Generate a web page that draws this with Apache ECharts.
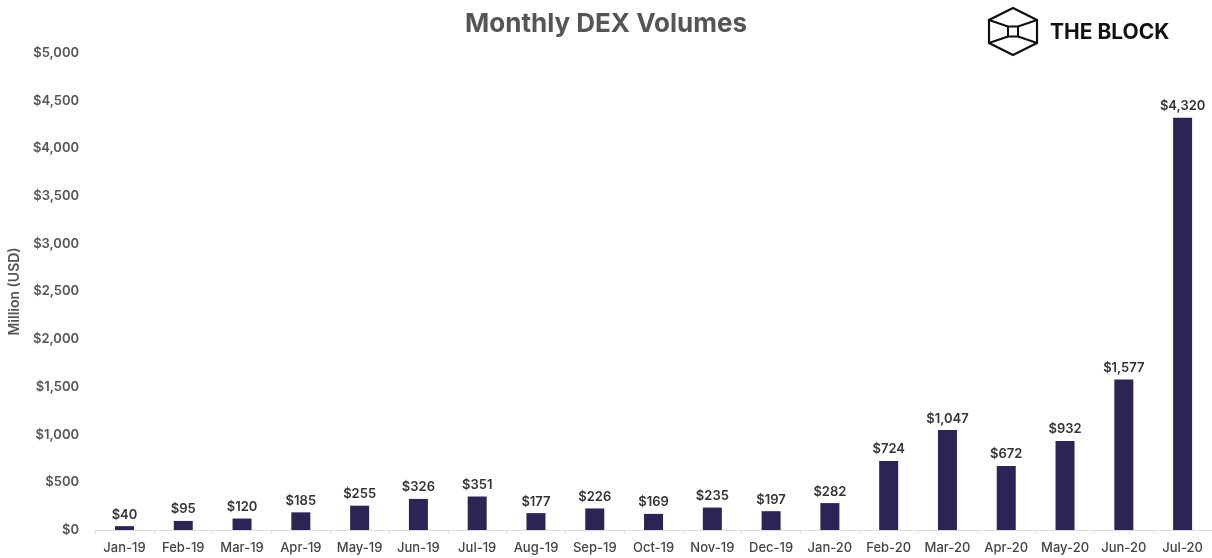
<!DOCTYPE html>
<html><head><meta charset="utf-8">
<script src="https://cdn.jsdelivr.net/npm/echarts@6/dist/echarts.min.js"></script>
<style>html,body{margin:0;padding:0;background:#fff}#c{width:1212px;height:558px}</style>
</head><body><div id="c"></div>
<script>
const categories = ['Jan-19','Feb-19','Mar-19','Apr-19','May-19','Jun-19','Jul-19','Aug-19','Sep-19','Oct-19','Nov-19','Dec-19','Jan-20','Feb-20','Mar-20','Apr-20','May-20','Jun-20','Jul-20'];
const volumes = [40,95,120,185,255,326,351,177,226,169,235,197,282,724,1047,672,932,1577,4320];
const yMin = 0, yMax = 5000, yStep = 500;
const FONT = 'Inter';
const chart = echarts.init(document.getElementById('c'), null, {renderer:'canvas'});
const hx = 1013, hy = 31.5;
chart.setOption({
  animation:false,
  backgroundColor:'#ffffff',
  title:{text:'Monthly DEX Volumes',left:'center',top:6,
    textStyle:{fontFamily:FONT,fontSize:26,fontWeight:700,color:'#555555'}},
  grid:{left:88,right:0,top:53,bottom:28,containLabel:false},
  xAxis:{type:'category',data:categories,
    axisLine:{lineStyle:{color:'#dddddd',width:1}},
    axisTick:{show:true,alignWithLabel:false,length:4,lineStyle:{color:'#e2e2e2'}},
    axisLabel:{interval:0,fontFamily:FONT,fontSize:13,fontWeight:500,color:'#444444',margin:12}},
  yAxis:{type:'value',min:yMin,max:yMax,interval:yStep,
    name:'Million (USD)',nameLocation:'middle',nameGap:67,nameRotate:90,
    nameTextStyle:{fontFamily:FONT,fontSize:14,fontWeight:600,color:'#555555'},
    splitLine:{show:false},axisLine:{show:false},axisTick:{show:false},
    axisLabel:{fontFamily:FONT,fontSize:13,fontWeight:600,color:'#555555',margin:16,
      formatter:v=>'$'+v.toLocaleString('en-US')}},
  series:[{type:'bar',data:volumes,barWidth:19,
    itemStyle:{color:'#2b2455'},
    label:{show:true,position:'top',distance:5,fontFamily:FONT,fontSize:13,fontWeight:600,color:'#333333',
      formatter:p=>'$'+p.value.toLocaleString('en-US')}}],
  graphic:[
    {type:'polygon',shape:{points:[[hx,8],[1037,20],[1037,43],[hx,55],[989,43],[989,20]]},
      style:{fill:null,stroke:'#111',lineWidth:2.2}},
    {type:'polygon',shape:{points:[[hx-5,hy-5],[hx+5,hy-5],[hx+5,hy+5],[hx-5,hy+5]]},
      style:{fill:null,stroke:'#111',lineWidth:2}},
    {type:'line',shape:{x1:989,y1:20,x2:hx-5,y2:hy-5},style:{stroke:'#111',lineWidth:2}},
    {type:'line',shape:{x1:1037,y1:20,x2:hx+5,y2:hy-5},style:{stroke:'#111',lineWidth:2}},
    {type:'line',shape:{x1:989,y1:43,x2:hx-5,y2:hy+5},style:{stroke:'#111',lineWidth:2}},
    {type:'line',shape:{x1:1037,y1:43,x2:hx+5,y2:hy+5},style:{stroke:'#111',lineWidth:2}},
    {type:'text',left:1050,top:22,style:{text:'THE BLOCK',fontFamily:FONT,fontSize:21,fontWeight:700,fill:'#111'}}
  ]
});
</script></body></html>
